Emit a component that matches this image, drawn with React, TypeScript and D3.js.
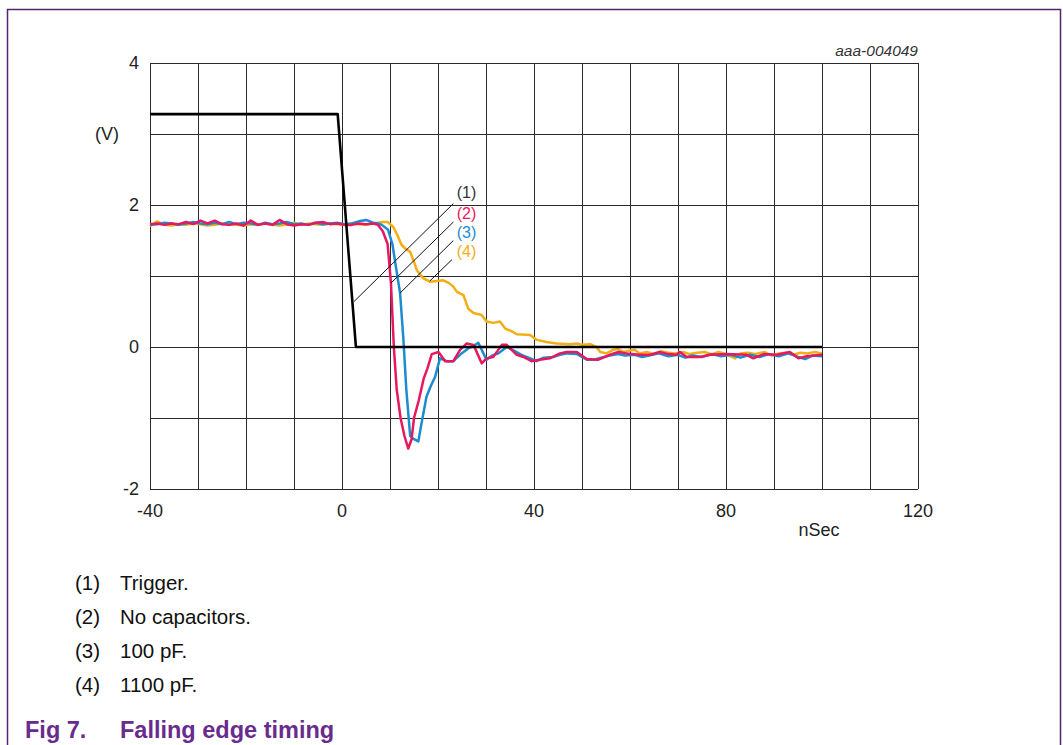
import React, { useEffect, useRef } from 'react';
import * as d3 from 'd3';

// time axis (nSec) and voltage (V) readings for each trace
const triggerT = [-40, -0.9, 2.9, 100];
const triggerV = [3.28, 3.28, 0, 0];

const flatT = [-40, -38.5, -37, -35.5, -34, -32.5, -31, -29.5, -28, -26.5, -25, -23.5, -22, -20.5, -19, -17.5, -16, -14.5, -13, -11.5, -10, -8.5, -7, -5.5, -4, -2.5, -1, 0.5, 2, 3.5, 5, 6.5];

const noCapT = [...flatT, 7.5, 8.5, 9.5, 10.2, 10.8, 11.4, 12.2, 13, 13.8, 14.5, 15, 16, 17, 17.8, 18.7, 20.1, 21.5, 23.2, 24.6, 26, 27.4, 29.1, 30.1, 31.5, 33.3, 34.3, 36.4, 37.8, 39.5, 41.2, 43.3, 45.4, 46.8, 48.9, 51, 53.3, 55.8, 57.6, 59.3, 62, 64.2, 66.2, 68, 69.7, 70.4, 71.8, 74.6, 76.7, 80.1, 84.3, 85.7, 87.8, 90.6, 93.3, 95.1, 96.8, 100];
const noCapV = [1.73, 1.74, 1.72, 1.74, 1.73, 1.76, 1.73, 1.78, 1.74, 1.78, 1.73, 1.72, 1.74, 1.71, 1.78, 1.72, 1.74, 1.72, 1.79, 1.73, 1.71, 1.73, 1.72, 1.75, 1.76, 1.73, 1.74, 1.72, 1.72, 1.74, 1.73, 1.74,
  1.72, 1.63, 1.45, 0.9, 0, -0.6, -1.0, -1.25, -1.43, -1.3, -1.0, -0.75, -0.45, -0.3, -0.1, -0.07, -0.2, -0.2, -0.04, 0.05, 0.03, -0.23, -0.16, -0.14, 0.03, 0.03, -0.11, -0.14, -0.2, -0.18, -0.16, -0.09, -0.07, -0.07, -0.17, -0.18, -0.11, -0.07, -0.09, -0.11, -0.11, -0.07, -0.1, -0.11, -0.07, -0.14, -0.14, -0.11, -0.1, -0.11, -0.16, -0.1, -0.11, -0.07, -0.16, -0.13, -0.11];

const pf100T = [...flatT, 7.5, 8.3, 9.6, 10.5, 11.3, 12.1, 12.8, 13.4, 14.2, 14.8, 15.9, 16.5, 17.6, 18.5, 19.4, 20.4, 21.8, 23.2, 24.9, 26.3, 27.5, 28.4, 30.1, 31.3, 32.6, 34.3, 35.8, 37.4, 39.2, 40.5, 42, 44, 45.4, 47, 49, 51, 52.5, 54, 55.8, 57.5, 59, 61, 62.5, 64, 66, 68, 70, 71.5, 73, 75, 77, 79, 81, 83, 85, 87, 89, 91, 93, 95, 96.5, 98, 100];
const pf100V = [1.72, 1.73, 1.75, 1.74, 1.72, 1.74, 1.76, 1.74, 1.73, 1.75, 1.73, 1.76, 1.73, 1.75, 1.74, 1.72, 1.75, 1.73, 1.74, 1.76, 1.73, 1.74, 1.72, 1.75, 1.73, 1.74, 1.75, 1.73, 1.74, 1.77, 1.79, 1.75,
  1.74, 1.72, 1.65, 1.45, 1.1, 0.76, 0.1, -0.6, -1.25, -1.29, -1.33, -1.1, -0.7, -0.55, -0.42, -0.16, -0.2, -0.2, -0.09, -0.02, 0.02, 0.06, -0.18, -0.12, -0.09, 0, -0.05, -0.11, -0.16, -0.2, -0.15, -0.14, -0.11, -0.09, -0.1, -0.18, -0.18, -0.15, -0.12, -0.1, -0.12, -0.11, -0.14, -0.12, -0.09, -0.13, -0.11, -0.15, -0.12, -0.14, -0.1, -0.13, -0.11, -0.15, -0.11, -0.14, -0.1, -0.13, -0.09, -0.14, -0.17, -0.12, -0.13];

const pf1100T = [...flatT, 7.5, 8.5, 9.5, 10.7, 11.5, 12.4, 13.3, 14.2, 15, 15.6, 16.9, 18.3, 19.7, 21.1, 22.3, 23.2, 23.9, 25.3, 26.3, 27.4, 29.1, 30.1, 31.5, 32.9, 34, 35.4, 36.4, 39.2, 40.6, 42.6, 44.7, 47.5, 49, 50, 51.7, 53, 53.8, 55.1, 56.5, 57.5, 58.6, 60, 61, 62, 63.5, 65, 66.5, 68, 69.5, 71, 72.5, 74, 75.5, 77, 78.5, 80, 81.9, 83, 84.5, 86, 88, 89.5, 91, 92.5, 94, 95.5, 97, 98.5, 100];
const pf1100V = [1.7, 1.77, 1.72, 1.71, 1.73, 1.72, 1.74, 1.73, 1.71, 1.72, 1.74, 1.73, 1.72, 1.71, 1.73, 1.72, 1.74, 1.72, 1.71, 1.73, 1.75, 1.72, 1.74, 1.73, 1.72, 1.74, 1.73, 1.72, 1.74, 1.73, 1.72, 1.74,
  1.75, 1.76, 1.76, 1.69, 1.58, 1.44, 1.38, 1.34, 1.2, 1.08, 0.97, 0.92, 0.93, 0.94, 0.9, 0.85, 0.78, 0.73, 0.54, 0.48, 0.45, 0.36, 0.34, 0.36, 0.26, 0.22, 0.18, 0.17, 0.1, 0.07, 0.05, 0.04, 0.05, 0.03, 0.04, 0, -0.07, -0.09, -0.04, -0.03, -0.07, -0.05, -0.04, -0.09, -0.07, -0.1, -0.06, -0.08, -0.09, -0.07, -0.1, -0.08, -0.07, -0.1, -0.07, -0.1, -0.16, -0.09, -0.08, -0.1, -0.07, -0.12, -0.09, -0.08, -0.11, -0.08, -0.09, -0.07, -0.09];

const xTicks = [-40, 0, 40, 80, 120];
const yTicks = [4, 2, 0, -2];
const labelNames = ['(1)', '(2)', '(3)', '(4)'];
const labelColors = ['#333333', '#e8185e', '#1b8ccf', '#f5ad14'];
const labelV = [2.18, 1.88, 1.61, 1.34];
// leader lines: [t0, v0, t1, v1] in data units
const leaders = [
  [23.2, 2.02, 2.5, 0.64],
  [23.2, 1.76, 10.2, 0.9],
  [23.2, 1.5, 12.1, 0.76],
  [22.9, 1.23, 18.3, 0.93],
];
const legendItems = ['Trigger.', 'No capacitors.', '100 pF.', '1100 pF.'];

const FONT = '"Liberation Sans", Arial, sans-serif';

const App = () => {
  const svgRef = useRef<SVGSVGElement>(null);

  useEffect(() => {
    const svg = d3.select(svgRef.current);
    svg.selectAll('*').remove();

    const x = d3.scaleLinear().domain([-40, 120]).range([150, 918]);
    const y = d3.scaleLinear().domain([-2, 4]).range([489, 63]);

    // outer frame
    svg.append('path')
      .attr('d', 'M7.5,745 V9.5 H1060.5 V745')
      .attr('fill', 'none')
      .attr('stroke', '#53246f')
      .attr('stroke-width', 1.5);

    // grid
    const grid = svg.append('g').attr('stroke', '#2a2a2a').attr('stroke-width', 1);
    d3.range(-40, 121, 10).forEach(t => {
      grid.append('line')
        .attr('x1', Math.round(x(t)) + 0.5).attr('x2', Math.round(x(t)) + 0.5)
        .attr('y1', y(4)).attr('y2', y(-2));
    });
    d3.range(-2, 4.1, 1).forEach(v => {
      grid.append('line')
        .attr('x1', x(-40)).attr('x2', x(120))
        .attr('y1', Math.round(y(v)) + 0.5).attr('y2', Math.round(y(v)) + 0.5);
    });

    // tick labels
    svg.append('g').selectAll('text')
      .data(yTicks)
      .join('text')
      .attr('x', 139)
      .attr('y', d => y(d) + 6)
      .attr('text-anchor', 'end')
      .attr('font-family', FONT)
      .attr('font-size', 18)
      .attr('fill', '#222')
      .text(d => d);

    svg.append('g').selectAll('text')
      .data(xTicks)
      .join('text')
      .attr('x', d => x(d))
      .attr('y', 517)
      .attr('text-anchor', 'middle')
      .attr('font-family', FONT)
      .attr('font-size', 18)
      .attr('fill', '#222')
      .text(d => d);

    svg.append('text')
      .attr('x', 107).attr('y', y(3) + 6)
      .attr('text-anchor', 'middle')
      .attr('font-family', FONT).attr('font-size', 18).attr('fill', '#222')
      .text('(V)');

    svg.append('text')
      .attr('x', 819).attr('y', 536)
      .attr('text-anchor', 'middle')
      .attr('font-family', FONT).attr('font-size', 18).attr('fill', '#222')
      .text('nSec');

    svg.append('text')
      .attr('x', 918).attr('y', 56)
      .attr('text-anchor', 'end')
      .attr('font-family', FONT).attr('font-size', 15.5).attr('font-style', 'italic').attr('fill', '#333')
      .text('aaa-004049');

    // traces
    const line = d3.line<[number, number]>()
      .x(d => x(d[0]))
      .y(d => y(d[1]));

    const series = [
      { t: pf1100T, v: pf1100V, color: labelColors[3], w: 2.5 },
      { t: pf100T, v: pf100V, color: labelColors[2], w: 2.5 },
      { t: noCapT, v: noCapV, color: labelColors[1], w: 2.5 },
      { t: triggerT, v: triggerV, color: '#000', w: 2.6 },
    ];
    series.forEach(s => {
      svg.append('path')
        .datum(s.t.map((t, i) => [t, s.v[i]] as [number, number]))
        .attr('fill', 'none')
        .attr('stroke', s.color)
        .attr('stroke-width', s.w)
        .attr('stroke-linejoin', 'round')
        .attr('d', line);
    });

    // label leaders
    svg.append('g').selectAll('line')
      .data(leaders)
      .join('line')
      .attr('x1', d => x(d[0])).attr('y1', d => y(d[1]))
      .attr('x2', d => x(d[2])).attr('y2', d => y(d[3]))
      .attr('stroke', '#111')
      .attr('stroke-width', 1);

    svg.append('rect')
      .attr('x', x(23.6)).attr('y', y(labelV[0]) - 10)
      .attr('width', 26).attr('height', 20)
      .attr('fill', '#fff');

    svg.append('g').selectAll('text')
      .data(labelNames)
      .join('text')
      .attr('x', x(23.9))
      .attr('y', (d, i) => y(labelV[i]) + 5.5)
      .attr('font-family', FONT)
      .attr('font-size', 16)
      .attr('fill', (d, i) => labelColors[i])
      .text(d => d);

    // legend below chart
    const legend = svg.append('g');
    legendItems.forEach((item, i) => {
      legend.append('text')
        .attr('x', 75).attr('y', 590 + i * 34)
        .attr('font-family', FONT).attr('font-size', 20.5).attr('fill', '#111')
        .text(labelNames[i]);
      legend.append('text')
        .attr('x', 120).attr('y', 590 + i * 34)
        .attr('font-family', FONT).attr('font-size', 20.5).attr('fill', '#111')
        .text(item);
    });

    // caption
    svg.append('text')
      .attr('x', 25).attr('y', 738)
      .attr('font-family', FONT).attr('font-size', 23.5).attr('font-weight', 'bold').attr('fill', '#6a2b8e')
      .text('Fig 7.');
    svg.append('text')
      .attr('x', 120).attr('y', 738)
      .attr('font-family', FONT).attr('font-size', 23.5).attr('font-weight', 'bold').attr('fill', '#6a2b8e')
      .text('Falling edge timing');
  }, []);

  return (
    <svg
      ref={svgRef}
      width={1063}
      height={745}
      style={{ position: 'absolute', left: 0, top: 0, background: '#fff' }}
    />
  );
};

export default App;
